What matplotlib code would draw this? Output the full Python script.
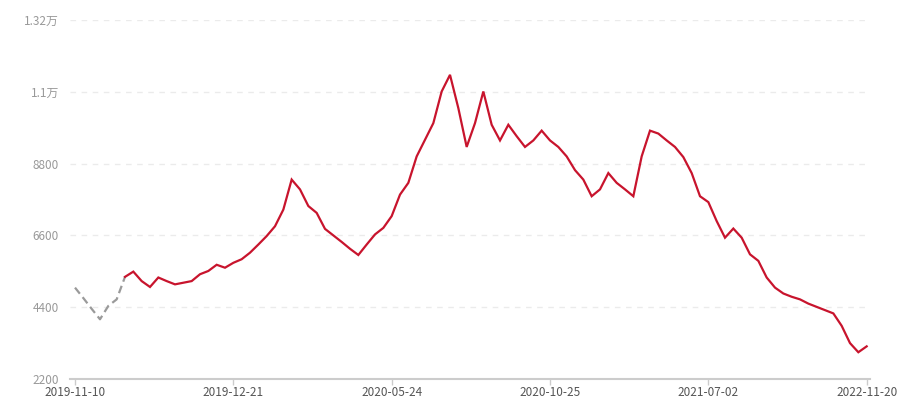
import matplotlib
matplotlib.use("Agg")
import matplotlib.pyplot as plt

plt.rcParams['font.family'] = ['Noto Sans CJK SC', 'DejaVu Sans']

# weekly values (96 points)
values = [
    5000, 4680, 4350, 4030, 4440, 4640, 5330,
    5490, 5200, 5020, 5310, 5200, 5100, 5150, 5200, 5410, 5510, 5700,
    5610, 5760, 5870, 6070, 6320, 6580, 6880, 7390, 8310, 8010, 7500,
    7290, 6800, 6600, 6400, 6190, 6000, 6320, 6630, 6830, 7190, 7850,
    8210, 9020, 9530, 10040, 11010, 11520, 10500, 9310, 10040, 11010,
    9990, 9510, 9990, 9640, 9310, 9510, 9810, 9510, 9310, 9020, 8600,
    8310, 7800, 8010, 8510, 8210, 8010, 7800, 9020, 9810, 9720, 9510,
    9310, 9000, 8510, 7800, 7620, 7040, 6530, 6810, 6530, 6020, 5820,
    5310, 5000, 4820, 4720, 4640, 4510, 4410, 4310, 4210, 3830, 3300,
    3020, 3200,
]
# first few points are drawn dashed grey (estimate)
n_dashed = 7

tick_idx = [0, 19, 38, 57, 76, 95]
tick_labels = ["2019-11-10", "2019-12-21", "2020-05-24", "2020-10-25", "2021-07-02", "2022-11-20"]

y_ticks = [2200, 4400, 6600, 8800, 11000, 13200]
y_labels = ["2200", "4400", "6600", "8800", "1.1万", "1.32万"]

x = list(range(len(values)))

fig = plt.figure(figsize=(9, 4), dpi=100)
ax = fig.add_axes([70 / 900, 21 / 400, 800 / 900, 359 / 400])

ax.plot(x[:n_dashed], values[:n_dashed], color='#9a9a9a', lw=1.6,
        linestyle=(0, (3.5, 2)), zorder=3)
ax.plot(x[n_dashed - 1:], values[n_dashed - 1:], color='#c8142d', lw=1.6,
        zorder=3, solid_joinstyle='miter')

ax.set_xlim(-0.6, len(values) - 1 + 0.4)
ax.set_ylim(2200, 13200)

ax.set_yticks(y_ticks)
ax.set_yticklabels(y_labels)
ax.set_xticks(tick_idx)
ax.set_xticklabels(tick_labels)

for yt in y_ticks[1:]:
    ax.axhline(yt, color='#ebebeb', lw=1, linestyle=(0, (4, 4)), zorder=1)

for side in ['top', 'right', 'left']:
    ax.spines[side].set_visible(False)
ax.spines['bottom'].set_color('#cccccc')
ax.spines['bottom'].set_linewidth(1.5)

ax.tick_params(axis='y', length=0, pad=8, labelsize=8.5, labelcolor='#999999')
ax.tick_params(axis='x', length=4, width=1, color='#cccccc', pad=1,
               labelsize=8.5, labelcolor='#555555')

fig.savefig("out.png", dpi=100)
